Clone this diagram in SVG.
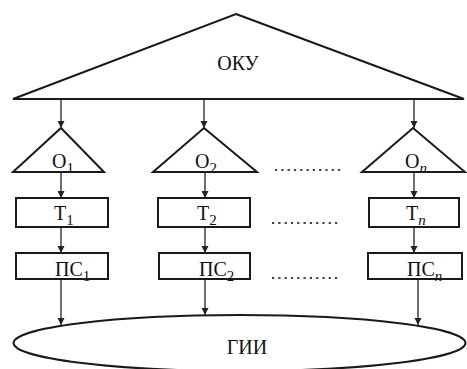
<svg xmlns="http://www.w3.org/2000/svg" width="467" height="369" viewBox="0 0 467 369">
  <style>
    .shape { fill: #fff; stroke: #1a1a1a; stroke-width: 2; stroke-linejoin: miter; }
    .conn { fill: none; stroke: #333; stroke-width: 1.4; }
    .dots { fill: none; stroke: #444; stroke-width: 2; stroke-dasharray: 2.2 4.1; }
    text { font-family: 'Liberation Serif', 'DejaVu Serif', serif; font-size: 20px; fill: #111; }
    .sub { font-size: 15px; }
    .it { font-style: italic; }
  </style>
  <defs>
    <marker id="arrow" markerUnits="userSpaceOnUse" markerWidth="8" markerHeight="8" refX="7" refY="3.5" orient="auto">
      <path d="M0,0 L7,3.5 L0,7 Z" fill="#222"/>
    </marker>
  </defs>

  <rect width="467" height="369" fill="#fff"/>

  <!-- top unit -->
  <g id="oku">
    <polygon class="shape" points="236,14 464,99 13,99"/>
    <text x="238" y="70" text-anchor="middle">ОКУ</text>
  </g>

  <!-- ellipse at the bottom -->
  <g id="gii">
    <ellipse class="shape" cx="239.5" cy="343" rx="226" ry="28"/>
    <text x="247" y="354" text-anchor="middle">ГИИ</text>
  </g>

  <!-- column 1 -->
  <g id="o1">
    <polygon class="shape" points="61,128 104,172 13,172"/>
    <text x="52" y="168">O<tspan class="sub" dy="5">1</tspan></text>
  </g>
  <g id="t1">
    <rect class="shape" x="16" y="198" width="92" height="29"/>
    <text x="54" y="220">T<tspan class="sub" dy="5">1</tspan></text>
  </g>
  <g id="ps1">
    <rect class="shape" x="16" y="253" width="92" height="26"/>
    <text x="55" y="276">ПС<tspan class="sub" dy="5">1</tspan></text>
  </g>

  <!-- column 2 -->
  <g id="o2">
    <polygon class="shape" points="204,128 257,172 153,172"/>
    <text x="195" y="168">O<tspan class="sub" dy="5">2</tspan></text>
  </g>
  <g id="t2">
    <rect class="shape" x="158" y="198" width="92" height="29"/>
    <text x="197" y="220">T<tspan class="sub" dy="5">2</tspan></text>
  </g>
  <g id="ps2">
    <rect class="shape" x="159" y="253" width="91" height="26"/>
    <text x="199" y="276">ПС<tspan class="sub" dy="5">2</tspan></text>
  </g>

  <!-- column n -->
  <g id="on">
    <polygon class="shape" points="413,128 465,172 362,172"/>
    <text x="405" y="168">O<tspan class="sub it" dy="5">n</tspan></text>
  </g>
  <g id="tn">
    <rect class="shape" x="369" y="198" width="90" height="29"/>
    <text x="406" y="220">T<tspan class="sub it" dy="5">n</tspan></text>
  </g>
  <g id="psn">
    <rect class="shape" x="368" y="253" width="94" height="26"/>
    <text x="407" y="276">ПС<tspan class="sub it" dy="5">n</tspan></text>
  </g>

  <!-- elided columns -->
  <g id="ellipsis">
    <line class="dots" x1="275" y1="170" x2="343" y2="170"/>
    <line class="dots" x1="272" y1="223" x2="340" y2="223"/>
    <line class="dots" x1="272" y1="278" x2="340" y2="278"/>
  </g>

  <!-- connectors -->
  <g id="connectors">
    <line class="conn" x1="61" y1="100" x2="61" y2="128" marker-end="url(#arrow)"/>
    <line class="conn" x1="204" y1="100" x2="204" y2="128" marker-end="url(#arrow)"/>
    <line class="conn" x1="414" y1="100" x2="414" y2="128" marker-end="url(#arrow)"/>

    <line class="conn" x1="61" y1="173" x2="61" y2="198" marker-end="url(#arrow)"/>
    <line class="conn" x1="205" y1="173" x2="205" y2="198" marker-end="url(#arrow)"/>
    <line class="conn" x1="414" y1="173" x2="414" y2="198" marker-end="url(#arrow)"/>

    <line class="conn" x1="61" y1="228" x2="61" y2="253" marker-end="url(#arrow)"/>
    <line class="conn" x1="205" y1="228" x2="205" y2="253" marker-end="url(#arrow)"/>
    <line class="conn" x1="414" y1="228" x2="414" y2="253" marker-end="url(#arrow)"/>

    <line class="conn" x1="61" y1="280" x2="61" y2="325" marker-end="url(#arrow)"/>
    <line class="conn" x1="205" y1="280" x2="205" y2="315" marker-end="url(#arrow)"/>
    <line class="conn" x1="418" y1="280" x2="418" y2="325" marker-end="url(#arrow)"/>
  </g>
</svg>
